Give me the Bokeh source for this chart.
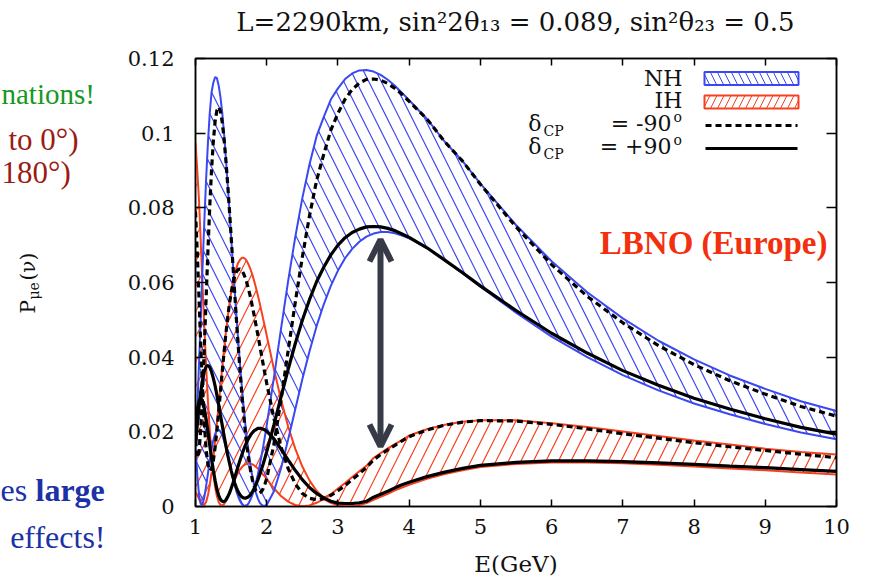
import math
from bokeh.plotting import figure
from bokeh.layouts import column, row
from bokeh.models import (Label, Arrow, OpenHead, FixedTicker, CustomJSTickFormatter,
                          LinearAxis, Range1d)
from bokeh.embed import file_html
from bokeh.resources import INLINE

# ---------------- data ----------------
energy = [1.000, 1.025, 1.050, 1.075, 1.100, 1.125, 1.150, 1.175, 1.200, 1.225,
          1.250, 1.275, 1.300, 1.325, 1.350, 1.375, 1.400, 1.425, 1.450, 1.475,
          1.500, 1.525, 1.550, 1.575, 1.600, 1.625, 1.650, 1.675, 1.700, 1.725,
          1.750, 1.775, 1.800, 1.825, 1.850, 1.875, 1.900, 1.925, 1.950, 1.975,
          2.0, 2.1, 2.2, 2.3, 2.4, 2.5, 2.6, 2.7, 2.8, 2.9,
          3.0, 3.1, 3.2, 3.3, 3.4, 3.5, 3.6, 3.7, 3.8, 3.9,
          4.0, 4.25, 4.5, 4.75, 5.0, 5.5, 6.0, 6.5, 7.0, 7.5,
          8.0, 8.5, 9.0, 9.5, 10.0]

nh_upper = [0.0180, 0.0264, 0.0385, 0.0515, 0.0645, 0.0769, 0.0881, 0.0976, 0.1053, 0.1109,
            0.1135, 0.1150, 0.1148, 0.1128, 0.1097, 0.1056, 0.1001, 0.0937, 0.0869, 0.0798,
            0.0724, 0.0651, 0.0579, 0.0510, 0.0443, 0.0381, 0.0322, 0.0269, 0.0220, 0.0177,
            0.0140, 0.0106, 0.0078, 0.0055, 0.0065, 0.0086, 0.0109, 0.0134, 0.0160, 0.0188,
            0.0218, 0.0344, 0.0475, 0.0603, 0.0721, 0.0826, 0.0916, 0.0992, 0.1043, 0.1090,
            0.1120, 0.1145, 0.1160, 0.1168, 0.1169, 0.1165, 0.1156, 0.1143, 0.1127, 0.1108,
            0.1088, 0.1038, 0.0977, 0.0925, 0.0865, 0.0754, 0.0657, 0.0574, 0.0504, 0.0444,
            0.0394, 0.0351, 0.0315, 0.0282, 0.0256]

nh_lower = [0.0160, 0.0085, 0.0029, 0.0006, 0.0007, 0.0026, 0.0056, 0.0089, 0.0123, 0.0153,
            0.0177, 0.0194, 0.0203, 0.0206, 0.0201, 0.0191, 0.0177, 0.0159, 0.0139, 0.0118,
            0.0096, 0.0076, 0.0057, 0.0040, 0.0026, 0.0015, 0.0007, 0.0003, 0.0002, 0.0004,
            0.0010, 0.0020, 0.0032, 0.0047, 0.0036, 0.0022, 0.0011, 0.0005, 0.0002, 0.0002,
            0.0004, 0.0040, 0.0102, 0.0179, 0.0260, 0.0341, 0.0415, 0.0483, 0.0541, 0.0591,
            0.0632, 0.0665, 0.0690, 0.0709, 0.0723, 0.0731, 0.0735, 0.0735, 0.0732, 0.0726,
            0.0718, 0.0693, 0.0660, 0.0625, 0.0589, 0.0519, 0.0455, 0.0400, 0.0352, 0.0311,
            0.0276, 0.0247, 0.0221, 0.0198, 0.0180]

nh_dcp_minus90 = [0.0177, 0.0131, 0.0146, 0.0211, 0.0311, 0.0433, 0.0562, 0.0688, 0.0803, 0.0901,
                  0.0977, 0.1031, 0.1061, 0.1070, 0.1059, 0.1030, 0.0987, 0.0931, 0.0868, 0.0798,
                  0.0724, 0.0648, 0.0573, 0.0500, 0.0430, 0.0365, 0.0303, 0.0249, 0.0200, 0.0158,
                  0.0123, 0.0094, 0.0070, 0.0054, 0.0042, 0.0037, 0.0036, 0.0040, 0.0048, 0.0060,
                  0.0075, 0.0166, 0.0285, 0.0416, 0.0546, 0.0668, 0.0778, 0.0873, 0.0943, 0.1008,
                  0.1053, 0.1091, 0.1117, 0.1134, 0.1144, 0.1145, 0.1142, 0.1133, 0.1120, 0.1104,
                  0.1085, 0.1038, 0.0977, 0.0925, 0.0863, 0.0749, 0.0648, 0.0563, 0.0492, 0.0431,
                  0.0380, 0.0337, 0.0301, 0.0268, 0.0242]

nh_dcp_plus90 = [0.0164, 0.0218, 0.0268, 0.0309, 0.0341, 0.0363, 0.0375, 0.0378, 0.0373, 0.0361,
                 0.0344, 0.0323, 0.0299, 0.0273, 0.0245, 0.0218, 0.0191, 0.0165, 0.0140, 0.0118,
                 0.0097, 0.0079, 0.0063, 0.0050, 0.0039, 0.0031, 0.0026, 0.0023, 0.0022, 0.0024,
                 0.0027, 0.0032, 0.0040, 0.0049, 0.0059, 0.0071, 0.0084, 0.0099, 0.0114, 0.0130,
                 0.0147, 0.0218, 0.0293, 0.0367, 0.0436, 0.0499, 0.0554, 0.0602, 0.0641, 0.0674,
                 0.0700, 0.0720, 0.0734, 0.0743, 0.0749, 0.0750, 0.0749, 0.0745, 0.0739, 0.0730,
                 0.0721, 0.0693, 0.0660, 0.0626, 0.0591, 0.0525, 0.0464, 0.0411, 0.0364, 0.0325,
                 0.0290, 0.0261, 0.0235, 0.0212, 0.0194]

ih_upper = [0.0975, 0.0900, 0.0817, 0.0703, 0.0587, 0.0475, 0.0372, 0.0281, 0.0204, 0.0140,
            0.0129, 0.0174, 0.0222, 0.0272, 0.0322, 0.0371, 0.0419, 0.0463, 0.0504, 0.0541,
            0.0573, 0.0600, 0.0623, 0.0640, 0.0653, 0.0661, 0.0666, 0.0666, 0.0663, 0.0656,
            0.0646, 0.0634, 0.0620, 0.0603, 0.0585, 0.0566, 0.0546, 0.0524, 0.0502, 0.0481,
            0.0458, 0.0369, 0.0287, 0.0215, 0.0155, 0.0107, 0.0070, 0.0042, 0.0023, 0.0033,
            0.0048, 0.0063, 0.0079, 0.0094, 0.0109, 0.0130, 0.0143, 0.0156, 0.0167, 0.0178,
            0.0190, 0.0207, 0.0219, 0.0227, 0.0231, 0.0231, 0.0223, 0.0213, 0.0201, 0.0189,
            0.0177, 0.0166, 0.0155, 0.0146, 0.0139]

ih_lower = [0.0039, 0.0031, 0.0020, 0.0010, 0.0004, 0.0005, 0.0013, 0.0031, 0.0056, 0.0090,
            0.0091, 0.0053, 0.0028, 0.0012, 0.0004, 0.0003, 0.0006, 0.0014, 0.0024, 0.0035,
            0.0047, 0.0059, 0.0071, 0.0082, 0.0091, 0.0099, 0.0105, 0.0110, 0.0113, 0.0115,
            0.0116, 0.0115, 0.0113, 0.0110, 0.0106, 0.0102, 0.0097, 0.0091, 0.0085, 0.0080,
            0.0073, 0.0049, 0.0028, 0.0013, 0.0004, 0.0001, 0.0003, 0.0010, 0.0020, 0.0010,
            0.0003, 0.0001, 0.0001, 0.0004, 0.0009, 0.0018, 0.0026, 0.0034, 0.0043, 0.0051,
            0.0058, 0.0074, 0.0087, 0.0097, 0.0106, 0.0114, 0.0118, 0.0118, 0.0116, 0.0112,
            0.0107, 0.0102, 0.0097, 0.0091, 0.0086]

ih_dcp_minus90 = [0.0790, 0.0680, 0.0555, 0.0423, 0.0309, 0.0218, 0.0152, 0.0112, 0.0096, 0.0101,
                  0.0122, 0.0158, 0.0202, 0.0253, 0.0306, 0.0360, 0.0412, 0.0460, 0.0503, 0.0541,
                  0.0572, 0.0597, 0.0616, 0.0629, 0.0635, 0.0636, 0.0632, 0.0624, 0.0612, 0.0596,
                  0.0578, 0.0558, 0.0534, 0.0511, 0.0485, 0.0460, 0.0434, 0.0407, 0.0381, 0.0355,
                  0.0330, 0.0237, 0.0160, 0.0102, 0.0061, 0.0035, 0.0022, 0.0018, 0.0021, 0.0030,
                  0.0042, 0.0056, 0.0072, 0.0088, 0.0104, 0.0125, 0.0139, 0.0152, 0.0164, 0.0176,
                  0.0187, 0.0205, 0.0218, 0.0226, 0.0230, 0.0229, 0.0220, 0.0208, 0.0195, 0.0183,
                  0.0171, 0.0160, 0.0150, 0.0140, 0.0131]

ih_dcp_plus90 = [0.0218, 0.0259, 0.0283, 0.0290, 0.0282, 0.0262, 0.0233, 0.0200, 0.0164, 0.0129,
                 0.0097, 0.0070, 0.0047, 0.0030, 0.0019, 0.0014, 0.0013, 0.0017, 0.0025, 0.0035,
                 0.0048, 0.0062, 0.0077, 0.0093, 0.0109, 0.0124, 0.0138, 0.0152, 0.0164, 0.0175,
                 0.0184, 0.0192, 0.0198, 0.0203, 0.0206, 0.0209, 0.0209, 0.0209, 0.0207, 0.0205,
                 0.0201, 0.0182, 0.0154, 0.0125, 0.0097, 0.0072, 0.0051, 0.0035, 0.0023, 0.0014,
                 0.0009, 0.0008, 0.0008, 0.0010, 0.0014, 0.0025, 0.0033, 0.0041, 0.0050, 0.0058,
                 0.0065, 0.0080, 0.0092, 0.0102, 0.0110, 0.0118, 0.0122, 0.0122, 0.0120, 0.0117,
                 0.0113, 0.0108, 0.0104, 0.0099, 0.0094]

x_ticks = [1, 2, 3, 4, 5, 6, 7, 8, 9, 10]
y_ticks = [0, 0.02, 0.04, 0.06, 0.08, 0.1, 0.12]

title_text = "L=2290km, sin²2θ₁₃ = 0.089, sin²θ₂₃ = 0.5"
legend_labels = ["NH", "IH"]
x_label = "E(GeV)"

# ---------------- layout constants (page pixels) ----------------
W, H = 877, 580
TOP_H = 48            # strip above the plot (title)
LEFT_W = 120          # strip left of the plot (slide notes, y label)
FL, FT = 195, 58      # frame left / top on the page
FW, FH = 641, 448
XMIN, XMAX, YMIN, YMAX = 1, 10, 0, 0.12
BASE_K = 0.37         # baseline correction, fraction of the font size

BLUE = "#3a48f2"
RED = "#f7401e"
ARROW_C = "#373a47"
SERIF = "DejaVu Serif"
TIMES = "Liberation Serif"


def dx(px):
    return XMIN + (px - FL) / FW * (XMAX - XMIN)


def dy(py):
    return YMIN + (FT + FH - py) / FH * (YMAX - YMIN)


def ident(v):
    return v


def add_label(fig, cx, cy, px, py, text, size, align="left", font=SERIF, color="#111111",
              style="normal", rotated=False):
    shift = BASE_K * size
    if rotated:
        px, angle = px - shift, math.pi / 2
    else:
        py, angle = py - shift, 0.0
    fig.add_layout(Label(x=cx(px), y=cy(py), text=text, text_font=font,
                         text_font_size="%dpx" % size, text_align=align,
                         text_baseline="alphabetic", text_color=color,
                         text_font_style=style, angle=angle))


def strip(w, h, x0, y0):
    """A blank canvas whose data coordinates are page pixels."""
    f = figure(width=w, height=h, x_range=Range1d(x0, x0 + w), y_range=Range1d(y0 + h, y0),
               output_backend="svg", toolbar_location=None,
               x_axis_location=None, y_axis_location=None, min_border=0,
               outline_line_color=None, background_fill_color="white",
               border_fill_color="white", frame_align=False)
    f.grid.visible = False
    return f


# ---------------- main plot ----------------
p = figure(frame_width=FW, frame_height=FH,
           min_border_left=FL - LEFT_W, min_border_top=FT - TOP_H,
           min_border_right=W - FL - FW, min_border_bottom=H - FT - FH,
           x_range=Range1d(XMIN, XMAX), y_range=Range1d(YMIN, YMAX),
           output_backend="svg", toolbar_location=None, frame_align=False,
           background_fill_color="white", border_fill_color="white")
p.grid.visible = False
p.outline_line_color = "black"
p.outline_line_width = 1.5

p.add_layout(LinearAxis(), "above")
p.add_layout(LinearAxis(), "right")


def style_axis(ax, ticks, tick_in, show_labels, standoff):
    ax.ticker = FixedTicker(ticks=ticks)
    ax.major_tick_in = tick_in
    ax.major_tick_out = 0
    ax.minor_tick_in = 0
    ax.minor_tick_out = 0
    ax.axis_line_color = "black"
    ax.axis_line_width = 1.5
    ax.major_tick_line_color = "black"
    ax.major_tick_line_width = 1.5
    ax.major_label_text_font = SERIF
    ax.major_label_text_color = "#111111"
    ax.major_label_standoff = standoff
    ax.major_label_text_font_size = "21px" if show_labels else "0px"
    if not show_labels:
        ax.formatter = CustomJSTickFormatter(code="return '';")


style_axis(p.below[0], x_ticks, 7, True, 12)
style_axis(p.above[0], x_ticks, 7, False, 0)
style_axis(p.left[0], y_ticks, 10, True, 21)
style_axis(p.right[0], y_ticks, 10, False, 0)
p.left[0].formatter = CustomJSTickFormatter(
    code="return tick === 0 ? '0' : (Math.round(tick * 100) / 100).toString();")
p.below[0].axis_label = x_label
p.below[0].axis_label_text_font = SERIF
p.below[0].axis_label_text_font_size = "23px"
p.below[0].axis_label_text_font_style = "normal"
p.below[0].axis_label_text_color = "#111111"
p.below[0].axis_label_standoff = 14

# bands
p.varea(x=energy, y1=ih_lower, y2=ih_upper, fill_color=None,
        hatch_pattern="right_diagonal_line", hatch_color=RED, hatch_scale=25, hatch_weight=1.2)
p.varea(x=energy, y1=nh_lower, y2=nh_upper, fill_color=None,
        hatch_pattern="left_diagonal_line", hatch_color=BLUE, hatch_scale=25, hatch_weight=1.2)

for ys in (ih_upper, ih_lower):
    p.line(energy, ys, line_color=RED, line_width=2)
for ys in (nh_upper, nh_lower):
    p.line(energy, ys, line_color=BLUE, line_width=2)

for ys in (ih_dcp_minus90, nh_dcp_minus90):
    p.line(energy, ys, line_color="black", line_width=3.2, line_dash="6 4")
for ys in (ih_dcp_plus90, nh_dcp_plus90):
    p.line(energy, ys, line_color="black", line_width=3.2)

# legend (label on the left, key on the right, as in gnuplot)
p.quad(left=[dx(704)], right=[dx(798)], bottom=[dy(84.5)], top=[dy(71.5)],
       fill_color=None, line_color=BLUE, line_width=2,
       hatch_pattern="left_diagonal_line", hatch_color=BLUE, hatch_scale=14, hatch_weight=1)
p.quad(left=[dx(704)], right=[dx(798)], bottom=[dy(108)], top=[dy(95)],
       fill_color=None, line_color=RED, line_width=2,
       hatch_pattern="right_diagonal_line", hatch_color=RED, hatch_scale=14, hatch_weight=1)
p.segment(x0=[dx(705)], y0=[dy(125)], x1=[dx(797)], y1=[dy(125)],
          line_color="black", line_width=3, line_dash="6 4")
p.segment(x0=[dx(705)], y0=[dy(148)], x1=[dx(797)], y1=[dy(148)],
          line_color="black", line_width=3)

add_label(p, dx, dy, 682, 86, legend_labels[0], 22, "right")
add_label(p, dx, dy, 682, 108.5, legend_labels[1], 22, "right")
for base, sign in ((131, "-"), (154, "+")):
    add_label(p, dx, dy, 541, base, "δ", 22, "right")
    add_label(p, dx, dy, 543, base + 5, "CP", 14, "left")
    add_label(p, dx, dy, 671, base, "= " + sign + "90", 22, "right")
    add_label(p, dx, dy, 673, base - 9, "o", 14, "left")

add_label(p, dx, dy, 827, 255, "LBNO (Europe)", 33, "right", TIMES, "#f2300e", "bold")

p.add_layout(Arrow(start=OpenHead(size=22, line_width=6, line_color=ARROW_C),
                   end=OpenHead(size=22, line_width=6, line_color=ARROW_C),
                   x_start=dx(380), y_start=dy(446), x_end=dx(380), y_end=dy(239),
                   line_width=6, line_color=ARROW_C))

# ---------------- title strip ----------------
top = strip(W, TOP_H, 0, 0)
add_label(top, ident, ident, 515, 31, title_text, 26, "center")

# ---------------- left strip: y label and slide notes ----------------
left = strip(LEFT_W, H - TOP_H, 0, TOP_H)
add_label(left, ident, ident, 35, 313, "P", 20, rotated=True)
add_label(left, ident, ident, 39, 299, "μe", 14, rotated=True)
add_label(left, ident, ident, 35, 280, "(ν)", 20, rotated=True)
add_label(left, ident, ident, 1, 104, "nations!", 29, "left", TIMES, "#17981f")
add_label(left, ident, ident, 78, 150, "to 0°)", 31, "right", TIMES, "#9b1b14")
add_label(left, ident, ident, 1, 183, "180°)", 31, "left", TIMES, "#9b1b14")
add_label(left, ident, ident, 0, 501, "es", 32, "left", TIMES, "#1b31a6")
add_label(left, ident, ident, 35, 501, "large", 32, "left", TIMES, "#1b31a6", "bold")
add_label(left, ident, ident, 105, 548, "effects!", 32, "right", TIMES, "#1b31a6")

page = column(top, row(left, p))
open("out.html", "w").write(file_html(page, INLINE))
